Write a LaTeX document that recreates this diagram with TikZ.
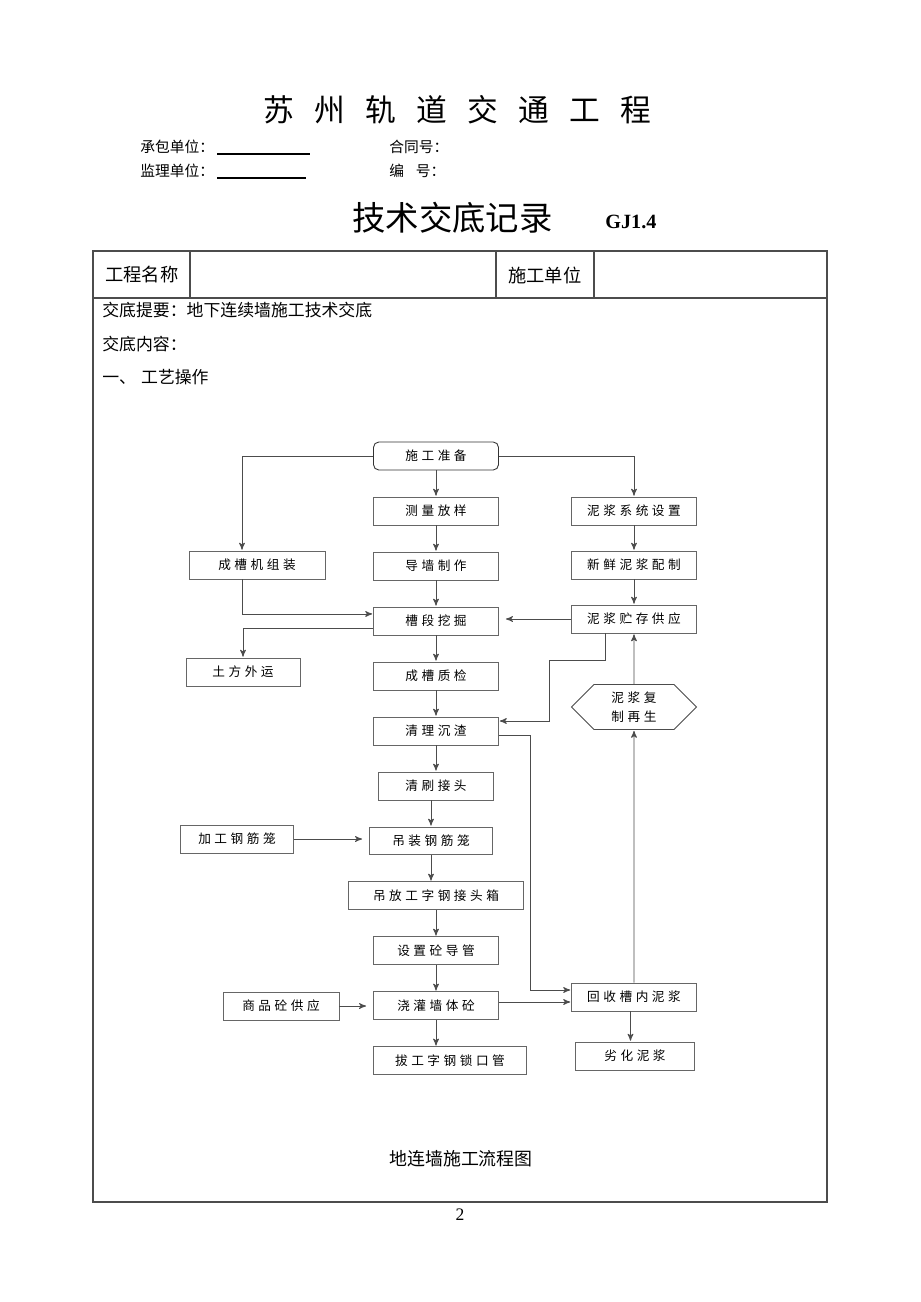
\documentclass[tikz,border=0pt]{standalone}
\usepackage{fontspec}
\setmainfont{Liberation Serif}
\newfontfamily\cjk{Noto Sans CJK SC}
\newfontfamily\cjkbox[LetterSpace=28]{Noto Sans CJK SC}
\newfontfamily\cjktitle[LetterSpace=66]{Noto Sans CJK SC}
\usepackage{tikz}
\usetikzlibrary{arrows}
\usetikzlibrary{positioning}
\usetikzlibrary{shapes.symbols}

\begin{document}
\begin{tikzpicture}[x=0.02cm, y=-0.02cm, >=stealth', node distance=1.1cm, thin]
      \tikzstyle{line} = [draw=black!70, line width=0.5pt, ->, shorten >=0.5pt]
      \tikzstyle{step box} = [rectangle, draw=black!60, line width=0.5pt, inner sep=0pt,
         minimum width=2.5cm, minimum height=0.56cm, font=\cjkbox\fontsize{7.2pt}{9pt}\selectfont]
      \tikzstyle{regen box} = [signal, signal to=west and east, draw=black!70, line width=0.5pt,
         inner sep=0pt, minimum width=2.5cm, minimum height=0.9cm, align=center,
         font=\cjkbox\fontsize{7.2pt}{11pt}\selectfont]
      \tikzstyle{plain} = [inner sep=0pt, anchor=west]
      \useasboundingbox (0,0) rectangle (920,1302);
      \fill[white] (0,0) rectangle (920,1302);

      %header
      \node[plain] (title) at (263,110) {\cjktitle\fontsize{17.5pt}{20pt}\selectfont 苏州轨道交通工程};
      \node[plain] (contractor) at (140,147) {\cjk\fontsize{8.4pt}{10pt}\selectfont 承包单位：};
      \node[plain] (supervisor) at (140,171) {\cjk\fontsize{8.4pt}{10pt}\selectfont 监理单位：};
      \draw[line width=0.8pt] (217,154) -- (310,154);
      \draw[line width=0.8pt] (217,178) -- (306,178);
      \node[plain] (contract) at (389,147) {\cjk\fontsize{8.4pt}{10pt}\selectfont 合同号：};
      \node[plain] (serial) at (389,171) {\cjk\fontsize{8.4pt}{10pt}\selectfont 编\hspace{0.8em}号：};
      \node[plain] (record) at (352,218) {\cjk\fontsize{19pt}{22pt}\selectfont 技术交底记录};
      \node[plain] (code) at (605,222) {\fontsize{11.5pt}{13pt}\selectfont\bfseries GJ1.4};

      %table
      \draw[black!70, line width=0.6pt] (93,251) rectangle (827,1202);
      \draw[black!70, line width=0.6pt] (93,298) -- (827,298);
      \foreach \x in {190,496,594}
         \draw[black!70, line width=0.6pt] (\x,251) -- (\x,298);
      \node[plain] (pname) at (105,275) {\cjk\fontsize{10.4pt}{12pt}\selectfont 工程名称};
      \node[plain] (builder) at (508,275) {\cjk\fontsize{10.4pt}{12pt}\selectfont 施工单位};
      \node[plain] (summary) at (102,310) {\cjk\fontsize{9.6pt}{11pt}\selectfont 交底提要：地下连续墙施工技术交底};
      \node[plain] (content) at (102,344) {\cjk\fontsize{9.6pt}{11pt}\selectfont 交底内容：};
      \node[plain] (part) at (102,377) {\cjk\fontsize{9.6pt}{11pt}\selectfont 一、\hspace{0.3em}工艺操作};
      \node (caption) at (461,1159) {\cjk\fontsize{10.2pt}{12pt}\selectfont 地连墙施工流程图};
      \node (page) at (460,1215) {\fontsize{10pt}{12pt}\selectfont 2};

      %nodes
      \node[step box, rounded corners=3pt, draw=black!80] (prep) at (436,456) {施工准备};
      \node[step box] (survey) [below of=prep]   {测量放样};
      \node[step box] (guide)  [below of=survey] {导墙制作};
      \node[step box] (dig)    [below of=guide]  {槽段挖掘};
      \node[step box] (check)  [below of=dig]    {成槽质检};
      \node[step box] (clean)  [below of=check]  {清理沉渣};
      \node[step box, minimum width=2.3cm] (brush) [below of=clean] {清刷接头};
      \node[step box, minimum width=2.46cm] (lift) [below of=brush, xshift=-1mm] {吊装钢筋笼};
      \node[step box, minimum width=3.5cm] (joint) [below of=lift, xshift=1mm] {吊放工字钢接头箱};
      \node[step box] (pipe)   [below of=joint]  {设置砼导管};
      \node[step box] (pour)   [below of=pipe]   {浇灌墙体砼};
      \node[step box, minimum width=3.06cm] (pull) [below of=pour, xshift=2.8mm] {拔工字钢锁口管};

      \node[step box] (system)  at (634,511) {泥浆系统设置};
      \node[step box] (fresh)   at (634,565) {新鲜泥浆配制};
      \node[step box] (store)   at (634,619) {泥浆贮存供应};
      \node[regen box] (regen)  at (634,707) {泥浆复\\制再生};
      \node[step box] (recycle) at (634,997) {回收槽内泥浆};
      \node[step box, minimum width=2.38cm] (worse) at (635,1056) {劣化泥浆};

      \node[step box, minimum width=2.72cm] (machine)  at (257,565)  {成槽机组装};
      \node[step box, minimum width=2.28cm] (muck)     at (243,672)  {土方外运};
      \node[step box, minimum width=2.26cm] (cage)     at (237,839)  {加工钢筋笼};
      \node[step box, minimum width=2.32cm] (concrete) at (281,1006) {商品砼供应};

      \coordinate (lcol) at (242,456);
      \coordinate (s1) at (605,660);
      \coordinate (s2) at (549,721);
      \coordinate (r1) at (530,735);
      \coordinate (r2) at (530,990);
      \coordinate (p1) at (499,1002);

      %lines
      \draw[line] (prep.west) -- (lcol) -- (lcol |- machine.north);
      \draw[line] (prep.east) -| (system.north);
      \draw[line] (prep) -- (survey);
      \draw[line] (survey) -- (guide);
      \draw[line] (guide) -- (dig);
      \draw[line] (dig) -- (check);
      \draw[line] (check) -- (clean);
      \draw[line] (clean) -- (brush);
      \draw[line] (brush.south -| lift.north) -- (lift.north);
      \draw[line] (lift.south) -- (lift.south |- joint.north);
      \draw[line] (joint.south -| pipe.north) -- (pipe.north);
      \draw[line] (pipe) -- (pour);
      \draw[line] (pour.south) -- (pour.south |- pull.north);
      \draw[line] (system) -- (fresh);
      \draw[line] (fresh) -- (store);
      \draw[line, shorten >=4pt] (store.west) -- (store.west -| dig.east);
      \draw[line] (machine.south -| lcol) |- ([yshift=4pt]dig.west);
      \draw[line] ([yshift=-4pt]dig.west) -| (muck.north);
      \draw[line] (store.south -| s1) -- (s1) -| (s2) -- (s2 -| clean.east);
      \draw[line] (clean.east |- r1) -- (r1) -- (r2) -- (r2 -| recycle.west);
      \draw[line] (p1) -- (p1 -| recycle.west);
      \draw[line, shorten >=4pt] (cage.east) -- (cage.east -| lift.west);
      \draw[line, shorten >=4pt] (concrete.east) -- (concrete.east -| pour.west);
      \draw[line] (recycle) -- (regen);
      \draw[line] (regen) -- (store);
      \draw[line] ([xshift=-2pt]recycle.south) -- ([xshift=-2pt]recycle.south |- worse.north);
\end{tikzpicture}
\end{document}
